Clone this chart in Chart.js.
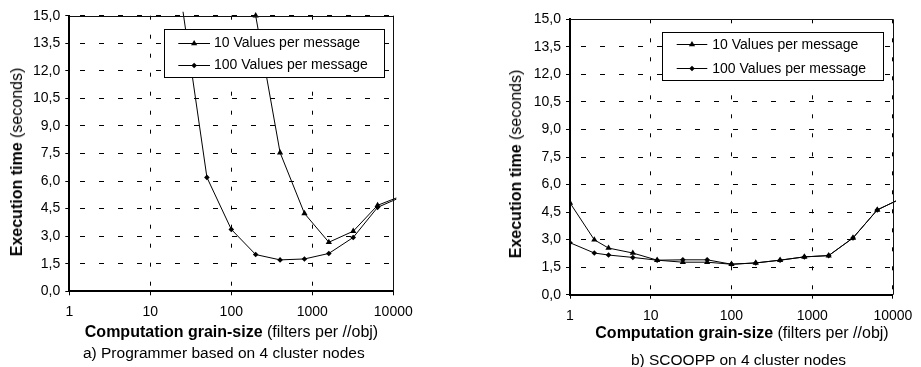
<!DOCTYPE html>
<html><head><meta charset="utf-8">
<script src="https://cdn.jsdelivr.net/npm/chart.js@4.4.1/dist/chart.umd.min.js"></script>
<style>
html,body{margin:0;padding:0;background:#fff;}
body{width:921px;height:367px;position:relative;overflow:hidden;font-family:"Liberation Sans",Arial,sans-serif;color:#000;}
.box{position:absolute;top:0;height:367px;}
.t{position:absolute;white-space:nowrap;font-size:16px;line-height:1;}
.xt{transform:translate(-50%,-50%);}
.yt{transform:translate(-50%,-50%) rotate(-90deg);}
.cap{position:absolute;white-space:nowrap;font-size:15.5px;line-height:1;transform:translate(-50%,-50%);}
b{font-weight:bold;}
</style></head><body>
<div class="box" style="left:0;width:460px"><canvas id="c1" width="460" height="367"></canvas></div>
<div class="box" style="left:460px;width:461px"><canvas id="c2" width="461" height="367"></canvas></div>
<div class="t yt" style="left:17px;top:161.5px"><b>Execution time</b> (seconds)</div>
<div class="t xt" style="left:231.5px;top:331.7px"><b>Computation grain-size</b> (filters per //obj)</div>
<div class="cap" style="left:223.8px;top:353.3px">a) Programmer based on 4 cluster nodes</div>
<div class="t yt" style="left:515.5px;top:164px"><b>Execution time</b> (seconds)</div>
<div class="t xt" style="left:742px;top:333.3px"><b>Computation grain-size</b> (filters per //obj)</div>
<div class="cap" style="left:738.5px;top:360px">b) SCOOPP on 4 cluster nodes</div>
<script>
// ---- data ----
const grainSizes = [1, 2, 3, 6, 12, 25, 50, 100, 200, 400, 800, 1600, 3200, 6400, 12800];
const seriesNames = ['10 Values per message', '100 Values per message'];
const progTen     = [null, null, null, null, null, null, null, null, 15.0, 7.55, 4.24, 2.67, 3.27, 4.68, 5.2];
const progHundred = [null, null, null, null, null, 15.4, 6.2, 3.37, 2.0, 1.71, 1.76, 2.06, 2.93, 4.57, 5.15];
const scooppTen     = [5.0, 2.99, 2.54, 2.27, 1.88, 1.77, 1.77, 1.66, 1.73, 1.88, 2.06, 2.13, 3.09, 4.62, 5.25];
const scooppHundred = [2.83, 2.27, 2.16, 2.03, 1.88, 1.9, 1.9, 1.66, 1.73, 1.88, 2.06, 2.13, 3.09, 4.62, 5.25];
const xTickValues = [1, 10, 100, 1000, 10000];
const xTickLabels = ['1', '10', '100', '1000', '10000'];
const yTickLabels = ['0,0', '1,5', '3,0', '4,5', '6,0', '7,5', '9,0', '10,5', '12,0', '13,5', '15,0'];
const pointStyles = ['triangle', 'rectRot'];

Chart.defaults.font.family = '"Liberation Sans", Arial, sans-serif';
Chart.defaults.color = '#000';

function drawMarker(ctx, style, x, y) {
  ctx.beginPath();
  if (style === 'triangle') {
    const r = 3.6;
    ctx.moveTo(x, y - r);
    ctx.lineTo(x + r * 0.866, y + r * 0.5);
    ctx.lineTo(x - r * 0.866, y + r * 0.5);
  } else {
    const r = 2.8;
    ctx.moveTo(x, y - r); ctx.lineTo(x + r, y); ctx.lineTo(x, y + r); ctx.lineTo(x - r, y);
  }
  ctx.closePath();
  ctx.fillStyle = '#000';
  ctx.fill();
}

const frameLegend = {
  id: 'frameLegend',
  afterDatasetsDraw(chart, args, o) {
    const {ctx, chartArea: a} = chart;
    ctx.save();
    // top / right frame
    ctx.strokeStyle = '#111';
    ctx.lineWidth = 1;
    ctx.beginPath();
    ctx.moveTo(a.left, Math.round(a.top) + 0.5);
    ctx.lineTo(Math.round(a.right) + 0.5, Math.round(a.top) + 0.5);
    ctx.lineTo(Math.round(a.right) + 0.5, a.bottom);
    ctx.stroke();
    // legend box
    ctx.fillStyle = '#fff';
    ctx.fillRect(o.x, o.y, o.w, o.h);
    ctx.strokeStyle = '#000';
    ctx.strokeRect(Math.round(o.x) + 0.5, Math.round(o.y) + 0.5, Math.round(o.w), Math.round(o.h));
    ctx.font = '14px "Liberation Sans", Arial, sans-serif';
    ctx.textBaseline = 'middle';
    chart.data.datasets.forEach((ds, i) => {
      const yy = o.y + o.rows[i];
      ctx.strokeStyle = '#000';
      ctx.lineWidth = 1;
      ctx.beginPath();
      ctx.moveTo(o.lx1, Math.round(yy) + 0.5);
      ctx.lineTo(o.lx2, Math.round(yy) + 0.5);
      ctx.stroke();
      drawMarker(ctx, pointStyles[i], (o.lx1 + o.lx2) / 2, Math.round(yy) + 0.5);
      ctx.fillStyle = '#000';
      ctx.fillText(ds.label, o.tx, yy + 0.5);
    });
    ctx.restore();
  }
};

function makeDatasets(ten, hundred) {
  return [ten, hundred].map((arr, i) => ({
    label: seriesNames[i],
    data: grainSizes.map((g, k) => ({x: g, y: arr[k]})),
    borderColor: '#000',
    backgroundColor: '#000',
    borderWidth: 1,
    pointStyle: pointStyles[i],
    pointRadius: i === 0 ? 3.6 : 2.8,
    pointBorderWidth: 0,
    pointHoverRadius: 3,
    tension: 0,
    spanGaps: false,
    clip: {left: 0, top: 4, right: 3, bottom: 0}
  }));
}

function makeChart(id, ten, hundred, pad, yWidth, xPad, legend) {
  return new Chart(document.getElementById(id), {
    type: 'line',
    data: {datasets: makeDatasets(ten, hundred)},
    options: {
      responsive: false,
      animation: false,
      events: [],
      layout: {padding: pad},
      plugins: {legend: {display: false}, tooltip: {enabled: false}, frameLegend: legend},
      scales: {
        x: {
          type: 'logarithmic',
          min: 1, max: 10000,
          afterBuildTicks: (s) => { s.ticks = xTickValues.map(v => ({value: v})); },
          afterFit: (s) => { s.height = 30; },
          ticks: {
            autoSkip: false, maxRotation: 0, padding: xPad,
            font: {size: 14}, color: '#000',
            callback: (v) => xTickLabels[xTickValues.indexOf(v)]
          },
          grid: {color: '#000', lineWidth: 1, tickLength: 4, tickColor: '#000', tickBorderDash: []},
          border: {display: true, color: '#000', width: 2, dash: [4, 15], dashOffset: 0}
        },
        y: {
          type: 'linear',
          min: 0, max: 15,
          afterFit: (s) => { s.width = yWidth; },
          ticks: {
            stepSize: 1.5, padding: 5,
            font: {size: 14}, color: '#000',
            callback: (v, i) => yTickLabels[i]
          },
          grid: {color: '#000', lineWidth: 1, tickLength: 4, tickColor: '#000', tickBorderDash: []},
          border: {display: true, color: '#000', width: 2, dash: [5, 14], dashOffset: -10}
        }
      }
    },
    plugins: [frameLegend]
  });
}

makeChart('c1', progTen, progHundred,
  {left: 0, top: 15.7, right: 66.7, bottom: 45.7}, 69.3, 8,
  {x: 164.3, y: 29.3, w: 220, h: 48, rows: [13.2, 35.8], lx1: 178.3, lx2: 210, tx: 214});
makeChart('c2', scooppTen, scooppHundred,
  {left: 0, top: 19.3, right: 21.5, bottom: 42.3}, 110, 8.6,
  {x: 202, y: 32, w: 220.7, h: 48, rows: [12.3, 36.3], lx1: 216.7, lx2: 247.3, tx: 252.3});
</script>
</body></html>
